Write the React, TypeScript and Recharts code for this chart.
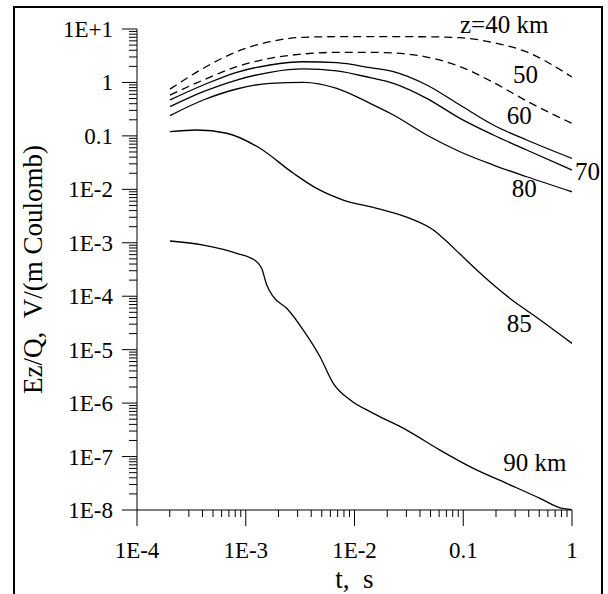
import React from 'react';
import { LineChart, Line, XAxis, YAxis, ReferenceDot, Label } from 'recharts';

// time samples (s) shared by the upper curves
const tUpper = [2.01e-4, 4.07e-4, 8.26e-4, 1.67e-3, 3.38e-3, 6.86e-3, 0.0139, 0.0228, 0.0461, 0.0933, 0.189, 0.383, 1.0];
const z40 = [0.75, 1.84, 3.76, 5.78, 7.0, 7.18, 7.18, 7.18, 7.15, 6.87, 5.58, 3.72, 1.26];
const z50 = [0.58, 1.11, 1.97, 2.83, 3.41, 3.66, 3.66, 3.56, 2.99, 1.99, 1.0, 0.45, 0.171];
const z60 = [0.47, 0.896, 1.55, 2.12, 2.44, 2.34, 1.89, 1.59, 0.896, 0.378, 0.16, 0.0838, 0.038];
const z70 = [0.352, 0.671, 1.11, 1.55, 1.79, 1.64, 1.23, 0.964, 0.505, 0.213, 0.104, 0.0544, 0.023];
const z80 = [0.239, 0.469, 0.754, 0.964, 1.006, 0.776, 0.407, 0.246, 0.104, 0.0505, 0.0285, 0.0172, 0.009];

const t85 = [2.01e-4, 3.54e-4, 6.68e-4, 1.35e-3, 2.74e-3, 4.49e-3, 7.88e-3, 0.016, 0.0324, 0.0531, 0.0655, 0.0933, 0.133, 0.269, 0.441, 1.0];
const z85 = [0.12, 0.129, 0.112, 0.0586, 0.02, 0.0104, 6.3e-3, 4.41e-3, 2.86e-3, 1.73e-3, 1.21e-3, 6.15e-4, 3.09e-4, 9.1e-5, 4.44e-5, 1.31e-5];

const t90 = [2.01e-4, 4.07e-4, 8.26e-4, 1.26e-3, 1.4e-3, 1.56e-3, 1.79e-3, 2.38e-3, 3.38e-3, 4.82e-3, 6.38e-3, 9.14e-3, 0.0149, 0.0302, 0.0611, 0.124, 0.251, 0.508, 0.776, 1.0];
const z90 = [1.08e-3, 9.08e-4, 6.35e-4, 4.42e-4, 3.33e-4, 1.62e-4, 9.8e-5, 5.94e-5, 2.33e-5, 7.38e-6, 2.34e-6, 1.14e-6, 6.44e-7, 3.13e-7, 1.32e-7, 6.0e-8, 3.15e-8, 1.65e-8, 1.1e-8, 1.02e-8];

const xMajor = [1e-4, 1e-3, 1e-2, 0.1, 1];
const xTickLabels = ['1E-4', '1E-3', '1E-2', '0.1', '1'];
const yMajor = [1e-8, 1e-7, 1e-6, 1e-5, 1e-4, 1e-3, 1e-2, 0.1, 1, 10];
const yTickLabels = ['1E-8', '1E-7', '1E-6', '1E-5', '1E-4', '1E-3', '1E-2', '0.1', '1', '1E+1'];

const curveLabels = ['z=40 km', '50', '60', '70', '80', '85', '90 km'];
const curveLabelT = [0.0933, 0.286, 0.251, 1.066, 0.279, 0.251, 0.233];
const curveLabelV = [8.42, 0.964, 0.165, 0.0149, 0.00728, 2.17e-5, 5.43e-8];

const xTitle = 't,\u00a0\u00a0s';
const yTitle = 'Ez/Q,\u00a0\u00a0V/(m Coulomb)';

const FONT = 'Liberation Serif';

const withMinors = (majors: number[]) => {
  const out: number[] = [];
  majors.forEach((m, i) => {
    out.push(m);
    if (i < majors.length - 1) for (let k = 2; k <= 9; k++) out.push(m * k);
  });
  return out;
};

const majorLabel = (v: number, majors: number[], labels: string[]) => {
  const idx = majors.findIndex((m) => Math.abs(Math.log10(m) - Math.log10(v)) < 1e-6);
  return idx >= 0 ? labels[idx] : null;
};

const pts = (t: number[], v: number[]) => t.map((tt, i) => ({ t: tt, v: v[i] }));

const YTick = (props: any) => {
  const { x, y, payload } = props;
  const lab = majorLabel(payload.value, yMajor, yTickLabels);
  const len = lab ? 15 : 8;
  return (
    <g>
      <line x1={x - len} x2={x} y1={y} y2={y} stroke="#000" strokeWidth={1} />
      {lab && (
        <text x={x - 24} y={y + 8} textAnchor="end" fontFamily={FONT} fontSize={23} fill="#000">
          {lab}
        </text>
      )}
    </g>
  );
};

const XTick = (props: any) => {
  const { x, y, payload } = props;
  const lab = majorLabel(payload.value, xMajor, xTickLabels);
  const len = lab ? 16 : 7;
  return (
    <g>
      <line x1={x} x2={x} y1={y} y2={y + len} stroke="#000" strokeWidth={1} />
      {lab && (
        <text x={x} y={y + 48} textAnchor="middle" fontFamily={FONT} fontSize={23} fill="#000">
          {lab}
        </text>
      )}
    </g>
  );
};

const series = [
  { name: '40', t: tUpper, v: z40, dash: '8 5' },
  { name: '50', t: tUpper, v: z50, dash: '8 5' },
  { name: '60', t: tUpper, v: z60, dash: undefined },
  { name: '70', t: tUpper, v: z70, dash: undefined },
  { name: '80', t: tUpper, v: z80, dash: undefined },
  { name: '85', t: t85, v: z85, dash: undefined },
  { name: '90', t: t90, v: z90, dash: undefined },
];

export default function App() {
  return (
    <div style={{ position: 'absolute', left: 0, top: 0, width: 608, height: 594, background: '#fff', overflow: 'hidden' }}>
      <div
        style={{
          position: 'absolute',
          left: 13,
          top: 6,
          width: 590,
          height: 600,
          boxSizing: 'border-box',
          borderLeft: '2px solid #000',
          borderTop: '2px solid #000',
          borderRight: '2px solid #000',
        }}
      />
      <div style={{ position: 'absolute', left: 0, top: 0 }}>
        <LineChart width={608} height={594} margin={{ top: 29, right: 36, bottom: 0, left: 0 }}>
          <XAxis
            dataKey="t"
            type="number"
            scale="log"
            domain={[1e-4, 1]}
            allowDataOverflow
            ticks={withMinors(xMajor)}
            interval={0}
            tickSize={0}
            tickMargin={0}
            tickLine={false}
            tick={<XTick />}
            height={84}
            stroke="#000"
          >
            <Label
              content={(p: any) => {
                const vb = p.viewBox;
                return (
                  <text x={vb.x + vb.width / 2} y={vb.y + 78} textAnchor="middle" fontFamily={FONT} fontSize={27} fill="#000">
                    {xTitle}
                  </text>
                );
              }}
            />
          </XAxis>
          <YAxis
            dataKey="v"
            type="number"
            scale="log"
            domain={[1e-8, 10]}
            allowDataOverflow
            ticks={withMinors(yMajor)}
            interval={0}
            tickSize={0}
            tickMargin={0}
            tickLine={false}
            tick={<YTick />}
            width={137}
            stroke="#000"
          >
            <Label
              content={(p: any) => {
                const vb = p.viewBox;
                const cy = vb.y + vb.height / 2;
                return (
                  <text
                    x={42}
                    y={cy}
                    transform={`rotate(-90, 42, ${cy})`}
                    textAnchor="middle"
                    fontFamily={FONT}
                    fontSize={27}
                    fill="#000"
                  >
                    {yTitle}
                  </text>
                );
              }}
            />
          </YAxis>
          {series.map((s) => (
            <Line
              key={s.name}
              data={pts(s.t, s.v)}
              dataKey="v"
              type="monotone"
              stroke="#000"
              strokeWidth={1.3}
              strokeDasharray={s.dash}
              dot={false}
              activeDot={false}
              isAnimationActive={false}
            />
          ))}
          {curveLabels.map((lab, i) => (
            <ReferenceDot
              key={lab}
              x={curveLabelT[i]}
              y={curveLabelV[i]}
              r={0}
              ifOverflow="visible"
              shape={(p: any) => (
                <text x={p.cx} y={p.cy} fontFamily={FONT} fontSize={25} fill="#000">
                  {lab}
                </text>
              )}
            />
          ))}
        </LineChart>
      </div>
    </div>
  );
}
